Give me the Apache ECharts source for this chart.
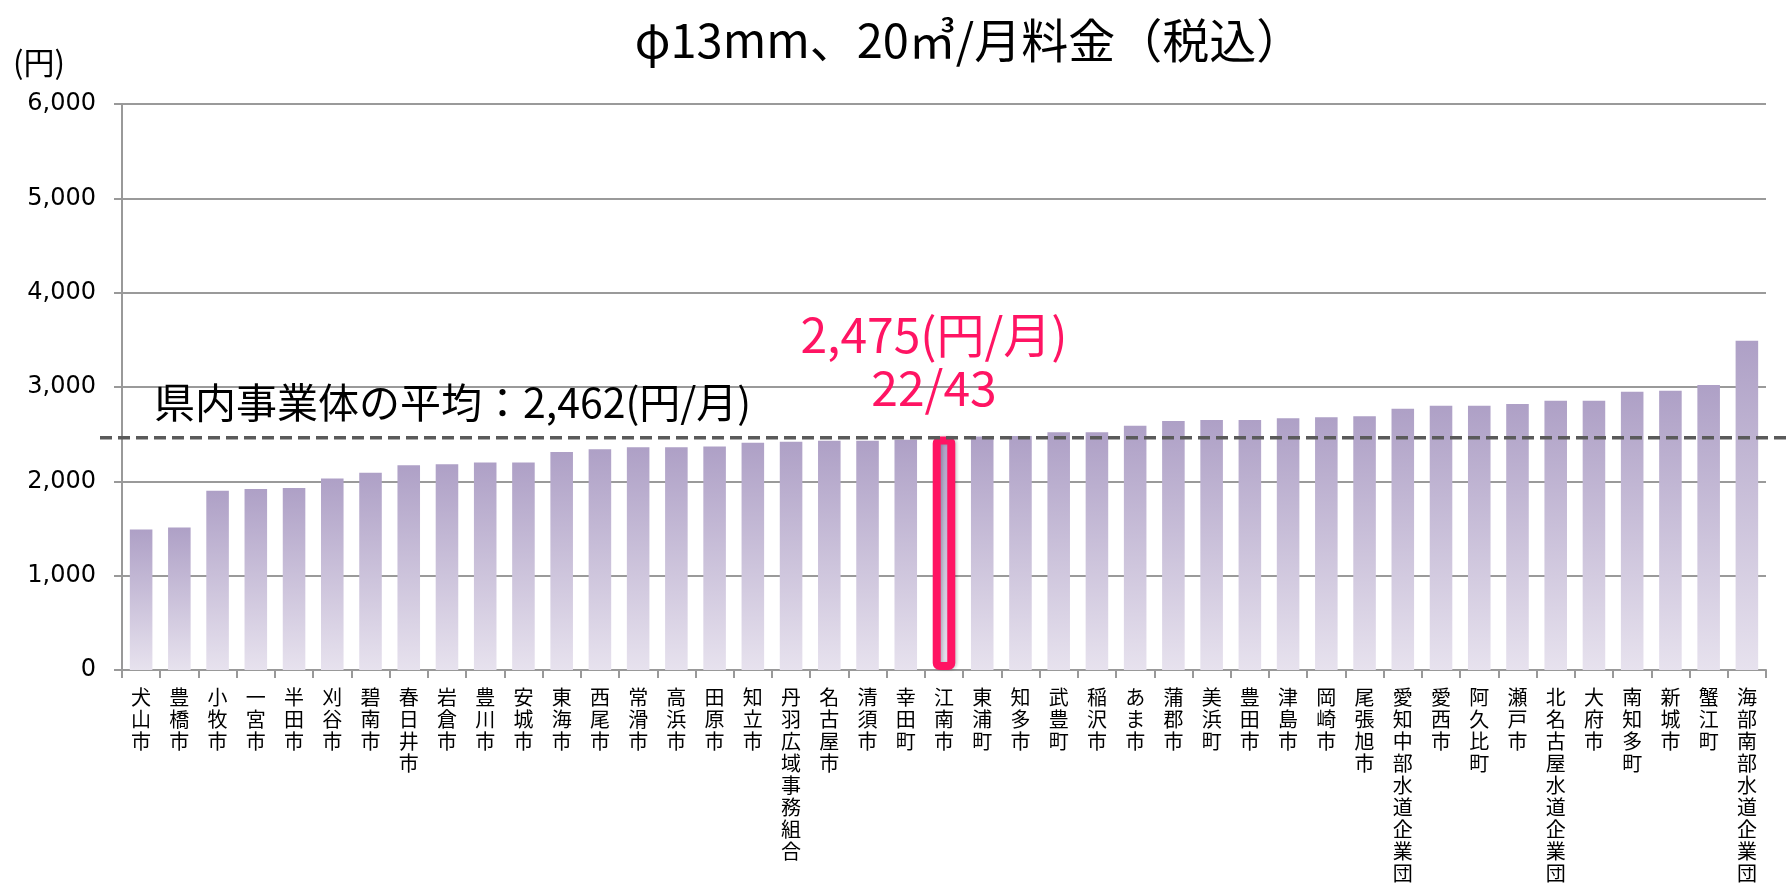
<!DOCTYPE html>
<html>
<head>
<meta charset="utf-8">
<title>φ13mm、20㎥/月料金（税込）</title>
<script src="https://cdn.jsdelivr.net/npm/echarts@6/dist/echarts.min.js"></script>
<style>
    body { margin: 0; background: #fff; }
    #chart1 { width: 1789px; height: 885px; }
</style>
</head>
<body>
<div id="chart1"></div>
<script>
// data
var categories = ['犬山市', '豊橋市', '小牧市', '一宮市', '半田市', '刈谷市', '碧南市', '春日井市', '岩倉市', '豊川市',
    '安城市', '東海市', '西尾市', '常滑市', '高浜市', '田原市', '知立市', '丹羽広域事務組合', '名古屋市', '清須市',
    '幸田町', '江南市', '東浦町', '知多市', '武豊町', '稲沢市', 'あま市', '蒲郡市', '美浜町', '豊田市',
    '津島市', '岡崎市', '尾張旭市', '愛知中部水道企業団', '愛西市', '阿久比町', '瀬戸市', '北名古屋水道企業団', '大府市', '南知多町',
    '新城市', '蟹江町', '海部南部水道企業団'];
var prices = [1490, 1510, 1900, 1920, 1930, 2030, 2090, 2170, 2180, 2200,
    2200, 2310, 2340, 2360, 2360, 2370, 2410, 2420, 2430, 2430,
    2440, 2475, 2475, 2480, 2520, 2520, 2590, 2640, 2650, 2650,
    2670, 2680, 2690, 2770, 2800, 2800, 2820, 2855, 2855, 2950,
    2960, 3020, 3490];
var yTicks = [0, 1000, 2000, 3000, 4000, 5000, 6000];
var average = 2462;
var highlightName = '江南市';

var cjk = '"Noto Sans CJK JP", "Noto Sans CJK SC", sans-serif';
var pink = '#ff1463';

function comma(v) {
    return String(v).replace(/\B(?=(\d{3})+(?!\d))/g, ',');
}

var barColor = new echarts.graphic.LinearGradient(0, 0, 0, 1, [
    { offset: 0, color: '#aea0c6' },
    { offset: 1, color: '#e7e2ee' }
]);

var seriesData = prices.map(function (v, i) {
    var item = { value: v };
    if (categories[i] == highlightName) {
        item.itemStyle = {
            borderColor: pink,
            borderWidth: 8,
            borderRadius: 3
        };
        item.label = {
            show: true,
            position: 'top',
            distance: 22,
            offset: [-10, 0],
            formatter: function () {
                return '{a|' + comma(v) + '(円/月)}\n{a|' + (i + 1) + '/' + prices.length + '}';
            },
            rich: {
                a: { color: pink, fontSize: 48, fontFamily: cjk, lineHeight: 53, align: 'center' }
            }
        };
    }
    return item;
});

var mychart = echarts.init(document.getElementById('chart1'));
var option = {
    animation: false,
    backgroundColor: '#fff',
    grid: {
        left: 122,
        right: 23,
        top: 104,
        bottom: 215,
        containLabel: false,
        outerBoundsMode: 'none'
    },
    xAxis: {
        type: 'category',
        data: categories,
        axisLine: { lineStyle: { color: '#999', width: 2 } },
        axisTick: { show: true, interval: 0, length: 8, lineStyle: { color: '#999', width: 2 } },
        axisLabel: {
            interval: 0,
            margin: 16,
            color: '#000',
            fontSize: 20,
            lineHeight: 22,
            fontFamily: cjk,
            formatter: function (name) {
                return name.split('').join('\n');
            }
        }
    },
    yAxis: {
        type: 'value',
        min: yTicks[0],
        max: yTicks[yTicks.length - 1],
        interval: yTicks[1] - yTicks[0],
        axisLine: { show: true, lineStyle: { color: '#999', width: 2 } },
        axisTick: { show: true, length: 8, lineStyle: { color: '#999', width: 2 } },
        axisLabel: {
            margin: 26,
            color: '#000',
            fontSize: 24,
            fontFamily: '"DejaVu Sans", sans-serif',
            formatter: function (v) { return comma(v); }
        },
        splitLine: { lineStyle: { color: '#9a9a9a', width: 2 } }
    },
    series: [
        {
            type: 'bar',
            data: seriesData,
            barWidth: '59%',
            itemStyle: {
                color: barColor,
                shadowBlur: 3,
                shadowOffsetX: 2,
                shadowColor: 'rgba(0, 0, 0, 0.18)'
            }
        }
    ]
};
mychart.setOption(option);

// average line and texts placed from the axis scale
var avgY = mychart.convertToPixel({ yAxisIndex: 0 }, average);
mychart.setOption({
    graphic: [
        {
            type: 'line',
            z: 50,
            shape: { x1: 100, y1: avgY, x2: 1789, y2: avgY },
            style: { stroke: '#5a5a5a', lineWidth: 3.5, lineDash: [12, 6] }
        },
        {
            type: 'text',
            z: 50,
            x: 154,
            y: avgY - 35,
            style: {
                text: '県内事業体の平均：' + comma(average) + '(円/月)',
                fill: '#000',
                font: '41px ' + cjk,
                verticalAlign: 'middle'
            }
        },
        {
            type: 'text',
            x: 969,
            y: 40,
            style: {
                text: 'φ13mm、20㎥/月料金（税込）',
                fill: '#000',
                font: '47px ' + cjk,
                align: 'center',
                verticalAlign: 'middle'
            }
        },
        {
            type: 'text',
            x: 13,
            y: 62,
            style: {
                text: '(円)',
                fill: '#000',
                font: '31px ' + cjk,
                verticalAlign: 'middle'
            }
        }
    ]
});
</script>
</body>
</html>
